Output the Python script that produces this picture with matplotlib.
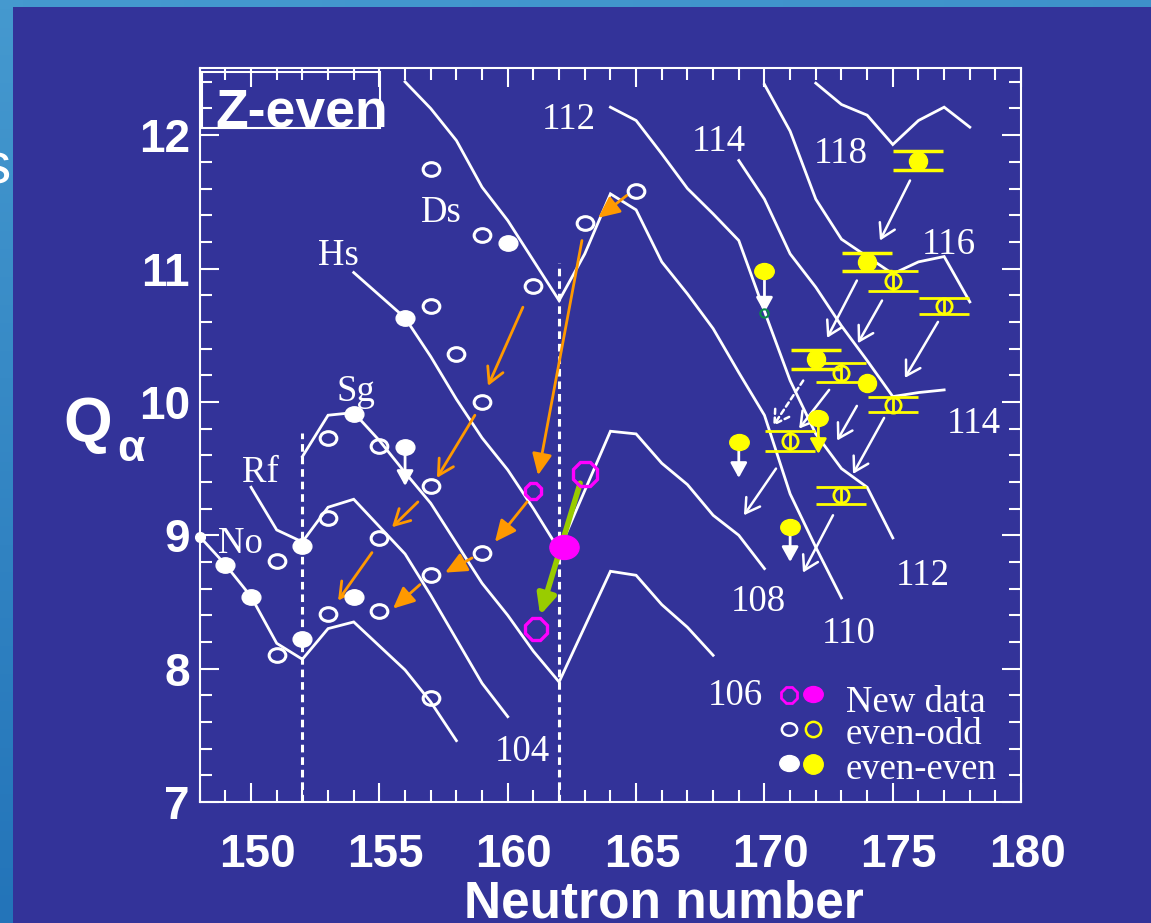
import numpy as np
import matplotlib
matplotlib.use('Agg')
import matplotlib.pyplot as plt
from matplotlib.path import Path
from matplotlib.patches import Rectangle
from matplotlib.ticker import MultipleLocator
from matplotlib.transforms import Affine2D, ScaledTranslation
from matplotlib.colors import LinearSegmentedColormap

BG = '#333399'
ORANGE = '#FF9900'
MAGENTA = '#FF00FF'
LIME = '#99CC00'
SERIF = 'Liberation Serif'
SANS = 'Liberation Sans'

# calculated Q_alpha(N) curves, one per even Z
N_102 = [148, 149, 150, 151, 152, 153, 154, 156, 157, 158]
Q_102 = [8.99, 8.78, 8.54, 8.19, 8.07, 8.30, 8.35, 7.99, 7.75, 7.46]
N_104 = [150, 151, 152, 153, 154, 156, 157, 158, 159, 160]
Q_104 = [9.36, 9.04, 8.95, 9.21, 9.27, 8.86, 8.55, 8.22, 7.89, 7.64]
N_106 = [152, 153, 154, 155, 156, 157, 158, 159, 160, 161, 162, 164, 165, 166, 167, 168]
Q_106 = [9.59, 9.90, 9.92, 9.71, 9.47, 9.24, 8.94, 8.64, 8.40, 8.13, 7.90, 8.73, 8.70, 8.48, 8.31, 8.10]
N_108 = [154, 156, 157, 158, 159, 160, 161, 162, 164, 165, 166, 167, 168, 169, 170]
Q_108 = [10.97, 10.63, 10.34, 10.02, 9.73, 9.49, 9.20, 8.89, 9.78, 9.76, 9.54, 9.38, 9.15, 9.00, 8.75]
N_110 = [156, 157, 158, 159, 160, 161, 162, 163, 164, 165, 166, 167, 168, 169, 170, 171, 172, 173]
Q_110 = [12.40, 12.20, 11.96, 11.61, 11.36, 11.06, 10.76, 11.11, 11.56, 11.44, 11.05, 10.81,
         10.55, 10.22, 9.90, 9.31, 8.91, 8.53]
N_112 = [164, 165, 166, 167, 168, 169, 170, 171, 172, 173, 174, 175]
Q_112 = [12.21, 12.11, 11.86, 11.60, 11.41, 11.21, 10.68, 10.16, 9.76, 9.50, 9.36, 8.98]
N_114 = [169, 170, 171, 172, 173, 174, 175, 176, 177]
Q_114 = [11.81, 11.52, 11.11, 10.86, 10.57, 10.31, 10.04, 10.07, 10.09]
N_116 = [170, 171, 172, 173, 174, 175, 176, 177, 178]
Q_116 = [12.38, 12.03, 11.52, 11.22, 11.09, 10.96, 11.05, 11.09, 10.75]
N_118 = [172, 173, 174, 175, 176, 177, 178]
Q_118 = [12.39, 12.23, 12.15, 11.93, 12.11, 12.21, 12.06]

curves = [(N_102, Q_102), (N_104, Q_104), (N_106, Q_106), (N_108, Q_108), (N_110, Q_110),
          (N_112, Q_112), (N_114, Q_114), (N_116, Q_116), (N_118, Q_118)]

curve_labels = ['112', '114', '118', '116', '114', '112', '110', '108', '106', '104',
                'Ds', 'Hs', 'Sg', 'Rf', 'No']
label_N = [162.39, 168.22, 172.98, 177.19, 178.17, 176.16, 173.29, 169.75, 168.87, 160.56,
           157.43, 153.40, 154.10, 150.35, 149.60]
label_Q = [12.05, 11.88, 11.79, 11.11, 9.77, 8.63, 8.19, 8.43, 7.73, 7.31,
           11.35, 11.03, 10.01, 9.40, 8.87]

# shell closures
shell_N = [152, 162]
shell_top = [9.77, 11.04]

# measured values, white: known even-odd / even-even
eo_N = [157, 159, 161, 157, 163, 165, 158, 159, 153, 155, 157, 159, 157, 155, 153, 155, 153, 151, 151, 157]
eo_Q = [11.75, 11.25, 10.87, 10.72, 11.34, 11.58, 10.36, 10.00, 9.73, 9.67, 9.37, 8.87, 8.70,
        8.43, 8.41, 8.98, 9.13, 8.81, 8.10, 7.78]
ee_N = [149, 150, 152, 152, 154, 154, 156, 156, 160]
ee_Q = [8.78, 8.54, 8.92, 8.22, 9.91, 8.54, 9.66, 10.63, 11.19]
ee_lim_N = [156]
ee_lim_to = [9.37]

# new data
new_open_N = [161, 163, 161.1]
new_open_Q = [9.33, 9.46, 8.30]
new_filled_N = [162.2]
new_filled_Q = [8.91]

# heaviest elements, yellow
y_ee_err_N = [176, 174, 172]
y_ee_err_Q = [11.81, 11.05, 10.32]
y_ee_err = [0.07, 0.07, 0.07]
y_eo_err_N = [175, 177, 173, 175, 171, 173]
y_eo_err_Q = [10.91, 10.72, 10.22, 9.98, 9.71, 9.30]
y_eo_err = [0.075, 0.06, 0.07, 0.055, 0.075, 0.065]
y_ee_N = [174]
y_ee_Q = [10.14]
y_lim_N = [170, 172.1, 169, 171]
y_lim_Q = [10.98, 9.88, 9.70, 9.06]
y_lim_to = [10.67, 9.61, 9.43, 8.80]
y_lim_col = ['white', 'yellow', 'white', 'white']

# decay-chain arrows (N0, Q0, N1, Q1)
orange_open = [(160.59, 10.71, 159.23, 10.12), (158.72, 9.90, 157.24, 9.43),
               (156.50, 9.25, 155.49, 9.06), (154.71, 8.87, 153.39, 8.51)]
orange_filled = [(164.65, 11.55, 163.52, 11.38), (162.89, 11.21, 161.18, 9.45),
                 (160.75, 9.25, 159.50, 8.95), (158.61, 8.83, 157.56, 8.72),
                 (156.58, 8.63, 155.53, 8.45)]
green_arrow = [(162.82, 9.39, 161.26, 8.40)]
white_open = [(175.67, 11.66, 174.50, 11.21), (173.60, 10.91, 172.44, 10.48),
              (174.58, 10.76, 173.64, 10.44), (176.76, 10.60, 175.47, 10.18),
              (172.52, 10.09, 171.35, 9.80), (173.60, 9.97, 172.83, 9.71),
              (174.66, 9.88, 173.45, 9.46), (170.45, 9.50, 169.20, 9.15),
              (172.67, 9.15, 171.50, 8.72)]
white_dashed = [(171.51, 10.16, 170.34, 9.82)]

ellipse = Path.unit_circle().transformed(Affine2D().scale(1.0, 0.82))

fig = plt.figure(figsize=(11.51, 9.23), dpi=100, facecolor=BG)

# light blue slide border
grad = LinearSegmentedColormap.from_list('edge', ['#2374b9', '#4599cf'])
strip = fig.add_axes([0, 0, 13 / 1151, 1])
strip.imshow(np.linspace(0, 1, 100)[:, None], cmap=grad, aspect='auto', origin='lower')
strip.axis('off')
top = fig.add_axes([0, 1 - 7 / 923, 1, 7 / 923])
top.imshow(np.linspace(1, 0.8, 100)[None, :], cmap=grad, aspect='auto', vmin=0, vmax=1)
top.axis('off')
fig.text(11 / 1151, 1 - 183 / 923, 's', color='white', fontsize=42, family=SANS,
         ha='right', va='baseline')

ax = fig.add_axes([0.1735, 0.1311, 0.7137, 0.7947])
ax.set_facecolor(BG)
ax.set_xlim(148, 180)
ax.set_ylim(7, 12.5)

for n, q in curves:
    ax.plot(n, q, color='white', lw=2, zorder=2, solid_joinstyle='miter')
ax.plot(N_102[0], Q_102[0], 'o', color='white', ms=7, zorder=4, clip_on=False)

for n, top_q in zip(shell_N, shell_top):
    ax.plot([n, n], [7, top_q], color='white', lw=2.2, ls=(0, (2.5, 1.6)), zorder=2)

for s, n, q in zip(curve_labels, label_N, label_Q):
    ax.text(n, q, s, color='white', fontsize=26.5, family=SERIF, ha='center', va='baseline')


def arrow(a, color, style, lw, ls='-', z=3):
    n0, q0, n1, q1 = a
    ax.annotate('', xy=(n1, q1), xytext=(n0, q0), zorder=z,
                arrowprops=dict(arrowstyle=style, color=color, lw=lw, ls=ls,
                                shrinkA=0, shrinkB=0, mutation_scale=20))


for a in orange_open:
    arrow(a, ORANGE, '->,head_length=0.55,head_width=0.3', 2)
for a in orange_filled:
    arrow(a, ORANGE, '-|>,head_length=0.65,head_width=0.3', 2)
for a in green_arrow:
    arrow(a, LIME, '-|>,head_length=0.6,head_width=0.28', 4)
for a in white_open:
    arrow(a, 'white', '->,head_length=0.5,head_width=0.3', 1.8)
for a in white_dashed:
    arrow(a, 'white', '->,head_length=0.5,head_width=0.3', 1.8, ls=(0, (2, 1.5)))

for n, q1 in zip(ee_lim_N, ee_lim_to):
    q0 = ee_Q[ee_N.index(n)]
    arrow((n, q0, n, q1), 'white', '-|>,head_length=0.45,head_width=0.25', 2)
for n, q0, q1, c in zip(y_lim_N, y_lim_Q, y_lim_to, y_lim_col):
    arrow((n, q0, n, q1), c, '-|>,head_length=0.45,head_width=0.25', 2)

# white data points
ax.plot(eo_N, eo_Q, ls='none', marker=ellipse, ms=12, mfc='none', mec='white', mew=2.2, zorder=4)
ax.plot(ee_N, ee_Q, ls='none', marker=ellipse, ms=13.5, mfc='white', mec='white', zorder=4)

# new measurements
for n, q, s in zip(new_open_N, new_open_Q, [12, 18, 16.5]):
    ax.plot(n, q, marker='8', mfc='none', mec=MAGENTA, mew=2.4, ms=s, zorder=4)
ax.plot(new_filled_N, new_filled_Q, ls='none', marker=ellipse, ms=21, mfc=MAGENTA,
        mec=MAGENTA, zorder=4)

# yellow points with error bars
ax.errorbar(y_ee_err_N, y_ee_err_Q, yerr=y_ee_err, fmt='o', ms=13, color='yellow',
            ecolor='yellow', elinewidth=2, capsize=18, capthick=2.5, zorder=4)
ax.errorbar(y_eo_err_N, y_eo_err_Q, yerr=y_eo_err, fmt='o', ms=11, mfc='none', mec='yellow',
            mew=2, ecolor='yellow', elinewidth=2, capsize=18, capthick=2.5, zorder=4)
ax.plot(y_ee_N, y_ee_Q, ls='none', marker='o', ms=13, color='yellow', zorder=4)
ax.plot(y_lim_N, y_lim_Q, ls='none', marker=ellipse, ms=14, color='yellow', zorder=4)
ax.plot(y_lim_N[0], y_lim_to[0], marker='o', ms=6, mfc='none', mec='#0a8a4a', mew=1.5, zorder=4)

# legend drawn by hand
leg_x = [0.7177, 0.7460]
ax.plot(leg_x[0], 0.1456, transform=ax.transAxes, marker='8', ms=13, mfc='none',
        mec=MAGENTA, mew=2)
ax.plot(leg_x[1], 0.1475, transform=ax.transAxes, marker=ellipse, ms=14, color=MAGENTA)
ax.plot(leg_x[0], 0.0995, transform=ax.transAxes, marker=ellipse, ms=11, mfc='none',
        mec='white', mew=1.8)
ax.plot(leg_x[1], 0.0995, transform=ax.transAxes, marker='o', ms=11, mfc='none',
        mec='yellow', mew=1.8)
ax.plot(leg_x[0], 0.0529, transform=ax.transAxes, marker=ellipse, ms=14, color='white')
ax.plot(leg_x[1], 0.0518, transform=ax.transAxes, marker='o', ms=14, color='yellow')
for s, y in zip(['New data', 'even-odd', 'even-even'], [0.1227, 0.0797, 0.0320]):
    ax.text(0.7866, y, s, transform=ax.transAxes, color='white', fontsize=26.5,
            family=SERIF, va='baseline')

# Z-even tag
ax.add_patch(Rectangle((0.0028, 0.9189), 0.2168, 0.0763, transform=ax.transAxes,
                       fill=False, ec='white', lw=1.5, zorder=5))
ax.text(0.0186, 0.9207, 'Z-even', transform=ax.transAxes, color='white', fontsize=38.5,
        family=SANS, weight='bold', va='baseline', zorder=6)

# axes styling
for sp in ax.spines.values():
    sp.set_color('white')
    sp.set_linewidth(1.5)
ax.xaxis.set_major_locator(MultipleLocator(5))
ax.xaxis.set_minor_locator(MultipleLocator(1))
ax.yaxis.set_major_locator(MultipleLocator(1))
ax.yaxis.set_minor_locator(MultipleLocator(0.2))
ax.tick_params(which='both', direction='in', top=True, right=True, colors='white', width=1.5)
ax.tick_params(which='major', length=14)
ax.tick_params(which='minor', length=8.5)
ax.tick_params(axis='x', pad=22)
ax.tick_params(axis='y', pad=7)
shift = ScaledTranslation(6 / 100, 0, fig.dpi_scale_trans)
for lab in ax.get_xticklabels():
    lab.set_transform(lab.get_transform() + shift)
for lab in ax.get_xticklabels() + ax.get_yticklabels():
    lab.set_fontfamily(SANS)
    lab.set_fontweight('bold')
    lab.set_fontsize(33)

fig.text(664 / 1151, 6 / 923, 'Neutron number', color='white', fontsize=37, family=SANS,
         weight='bold', ha='center', va='baseline')
fig.text(63 / 1151, 1 - 441 / 923, 'Q', color='white', fontsize=45, family=SANS,
         weight='bold', va='baseline')
fig.text(117 / 1151, 1 - 461 / 923, 'α', color='white', fontsize=32, family=SANS,
         weight='bold', va='baseline')

fig.savefig('out.png', dpi=100, facecolor=BG)
